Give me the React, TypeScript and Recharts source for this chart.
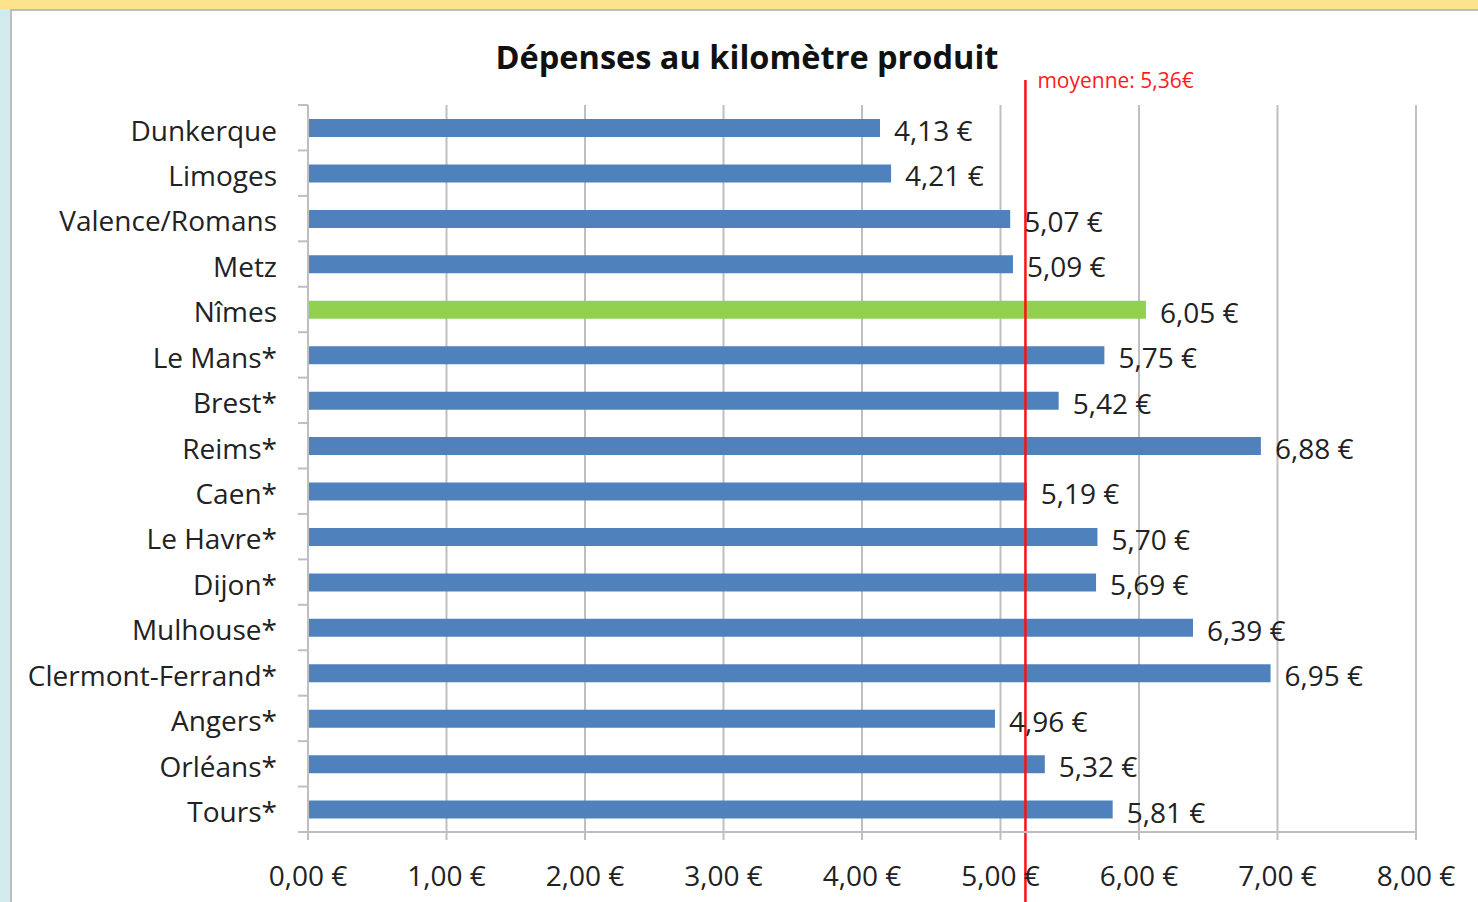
import {
  BarChart, Bar, XAxis, YAxis, CartesianGrid, Cell, LabelList, ReferenceLine,
} from 'recharts'

const cities = [
  'Dunkerque', 'Limoges', 'Valence/Romans', 'Metz', 'Nîmes', 'Le Mans*', 'Brest*', 'Reims*',
  'Caen*', 'Le Havre*', 'Dijon*', 'Mulhouse*', 'Clermont-Ferrand*', 'Angers*', 'Orléans*', 'Tours*',
]
const costs = [4.13, 4.21, 5.07, 5.09, 6.05, 5.75, 5.42, 6.88, 5.19, 5.70, 5.69, 6.39, 6.95, 4.96, 5.32, 5.81]
const xTicks = [0, 1, 2, 3, 4, 5, 6, 7, 8]
const highlighted = 'Nîmes'
// the red line sits where it was drawn in the picture, its label keeps the original text
const meanLineAt = 5.18
const meanLabel = 'moyenne: 5,36€'

const data = cities.map((city, i) => ({ city, cost: costs[i] }))

const W = 1478
const H = 902
const TOP = 105
const BOTTOM = 70
const FONT = '"Open Sans", sans-serif'
const TEXT = '#222'
const GRID = '#BFBFBF'
const FS = 28

const eur = (v: number) => v.toFixed(2).replace('.', ',') + ' €'

const bandSize = (H - TOP - BOTTOM) / cities.length

function CityTick(props: any) {
  const { x, y, payload, index } = props
  const ax = x + 21
  return (
    <g>
      <line x1={ax} x2={ax + 10} y1={y - bandSize / 2} y2={y - bandSize / 2} stroke={GRID} strokeWidth={2} />
      {index === cities.length - 1 && (
        <line x1={ax} x2={ax + 10} y1={y + bandSize / 2} y2={y + bandSize / 2} stroke={GRID} strokeWidth={2} />
      )}
      <text x={x} y={y + 3} dy="0.35em" textAnchor="end" fill={TEXT} fontSize={FS} fontFamily={FONT}>
        {payload.value}
      </text>
    </g>
  )
}

function MeanLine(props: any) {
  const { x1 } = props
  const top = Math.min(props.y1, props.y2)
  const bottom = Math.max(props.y1, props.y2)
  return (
    <g>
      <line x1={x1} x2={x1} y1={top - 25} y2={bottom + BOTTOM} stroke="#FF1010" strokeWidth={2.5} />
      <text x={x1 + 12} y={top - 17} fill="#FF1A1A" fontSize={21} fontFamily={FONT}>{meanLabel}</text>
    </g>
  )
}

export default function App() {
  return (
    <div style={{ position: 'absolute', left: 0, top: 0, width: W, height: H, overflow: 'hidden', background: '#D4EBEE' }}>
      <div style={{ position: 'absolute', left: 0, top: 0, width: W, height: 9, background: '#FCE38C' }} />
      <div style={{
        position: 'absolute', left: 10, top: 9, width: W, height: H,
        background: '#fff', borderLeft: '2px solid #BDBDBD', borderTop: '2px solid #BDBDBD',
      }} />
      <div style={{
        position: 'absolute', left: 0, width: 1494, top: 34, textAlign: 'center',
        fontFamily: FONT, fontWeight: 700, fontSize: 32.5, color: '#111',
      }}>
        Dépenses au kilomètre produit
      </div>
      <div style={{ position: 'absolute', left: 0, top: 0 }}>
        <BarChart
          width={W}
          height={H}
          data={data}
          layout="vertical"
          margin={{ top: TOP, right: 62, bottom: 0, left: 0 }}
        >
          <CartesianGrid horizontal={false} vertical stroke={GRID} strokeWidth={2} />
          <XAxis
            type="number"
            domain={[0, 8]}
            ticks={xTicks}
            tickFormatter={eur}
            height={BOTTOM}
            tickSize={8}
            tickMargin={26}
            axisLine={{ stroke: GRID, strokeWidth: 2 }}
            tickLine={{ stroke: GRID, strokeWidth: 2 }}
            tick={{ fill: TEXT, fontSize: FS, fontFamily: FONT }}
          />
          <YAxis
            type="category"
            dataKey="city"
            width={308}
            tickSize={10}
            tickMargin={21}
            interval={0}
            tickLine={false}
            axisLine={{ stroke: GRID, strokeWidth: 2 }}
            tick={<CityTick />}
          />
          <Bar dataKey="cost" barSize={18} isAnimationActive={false}>
            {data.map((d) => (
              <Cell key={d.city} fill={d.city === highlighted ? '#92D050' : '#4F81BD'} />
            ))}
            <LabelList
              dataKey="cost"
              position="right"
              offset={14}
              formatter={(v: any) => eur(Number(v))}
              fill={TEXT}
              fontSize={FS}
              fontFamily={FONT}
              dy={3}
            />
          </Bar>
          <ReferenceLine x={meanLineAt} shape={<MeanLine />} />
        </BarChart>
      </div>
    </div>
  )
}
